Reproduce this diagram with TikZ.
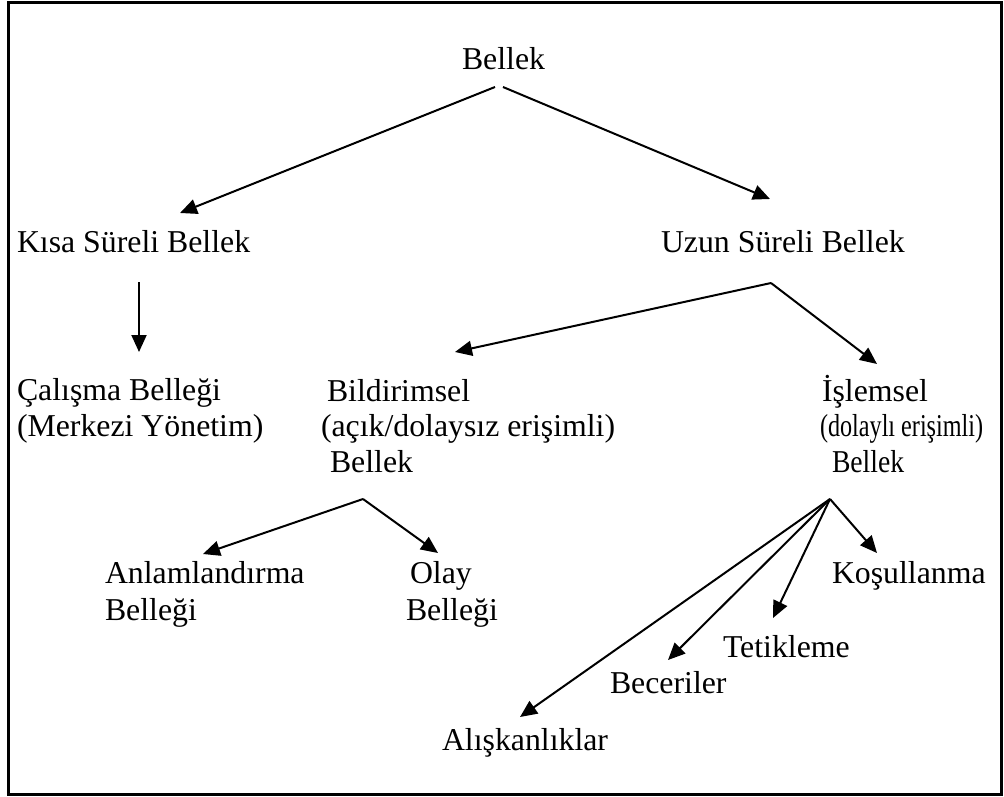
\documentclass[tikz,border=0pt]{standalone}
\usepackage{fontspec}
\usepackage{graphicx}
\setmainfont{Liberation Serif}
\usetikzlibrary{arrows.meta}
\begin{document}
\begin{tikzpicture}[x=1pt,y=-1pt,
  lbl/.style={anchor=base west,inner sep=0pt,outer sep=0pt,align=left,
    font=\fontsize{31.8}{35.5}\selectfont},
  link/.style={line width=2pt,-{Triangle[length=17pt,width=15pt]}}]
\useasboundingbox (0,0) rectangle (1004,796);
\draw[line width=3pt] (8.5,2) rectangle (1001,794.5);

% labels (multi-line labels are placed by the baseline of their last line)
\node[lbl] (bellek) at (462,69) {Bellek};
\node[lbl] (kisa) at (17,252) {Kısa Süreli Bellek};
\node[lbl] (uzun) at (661,252) {Uzun Süreli Bellek};
\node[lbl] (calisma) at (17,436) {Çalışma Belleği\\(Merkezi Yönetim)};
\node[lbl] (bildir) at (321,472) {\hspace*{6pt}Bildirimsel\\(açık/dolaysız erişimli)\\\hspace*{9pt}Bellek};
\node[lbl] (islem) at (820,472) {\hspace*{2pt}İşlemsel\\\scalebox{0.76}[1]{(dolaylı erişimli)}\\\hspace*{12pt}\scalebox{0.87}[1]{Bellek}};
\node[lbl,font=\fontsize{31.8}{37}\selectfont] (anlam) at (105,620) {Anlamlandırma\\Belleği};
\node[lbl,font=\fontsize{31.8}{37}\selectfont] (olay) at (406,620) {\hspace*{4pt}Olay\\Belleği};
\node[lbl] (kosul) at (832,583) {Koşullanma};
\node[lbl] (tetik) at (723,657) {Tetikleme};
\node[lbl] (beceri) at (610,693) {Beceriler};
\node[lbl] (aliskan) at (442,750) {Alışkanlıklar};

% branching points and arrow tips
\coordinate (bL) at (495,87);
\coordinate (bR) at (503,87);
\coordinate (tKisa) at (180,213);
\coordinate (tUzun) at (770,199);
\coordinate (kTop) at (139,282);
\coordinate (tCal) at (139,352);
\coordinate (uJ) at (771,283);
\coordinate (tBil) at (455,352);
\coordinate (tIsl) at (877,364);
\coordinate (bJ) at (363,499);
\coordinate (tAnl) at (203,554);
\coordinate (tOlay) at (438,553);
\coordinate (iJ) at (830,499);
\coordinate (tKos) at (877,553);
\coordinate (tTet) at (773,618);
\coordinate (tBec) at (668,660);
\coordinate (tAli) at (520,717);

% connectors
\draw[link] (bL) -- (tKisa);
\draw[link] (bR) -- (tUzun);
\draw[link] (kTop) -- (tCal);
\draw[link] (uJ) -- (tBil);
\draw[link] (uJ) -- (tIsl);
\draw[link] (bJ) -- (tAnl);
\draw[link] (bJ) -- (tOlay);
\draw[link] (iJ) -- (tKos);
\draw[link] (iJ) -- (tTet);
\draw[link] (iJ) -- (tBec);
\draw[link] (iJ) -- (tAli);
\end{tikzpicture}
\end{document}
